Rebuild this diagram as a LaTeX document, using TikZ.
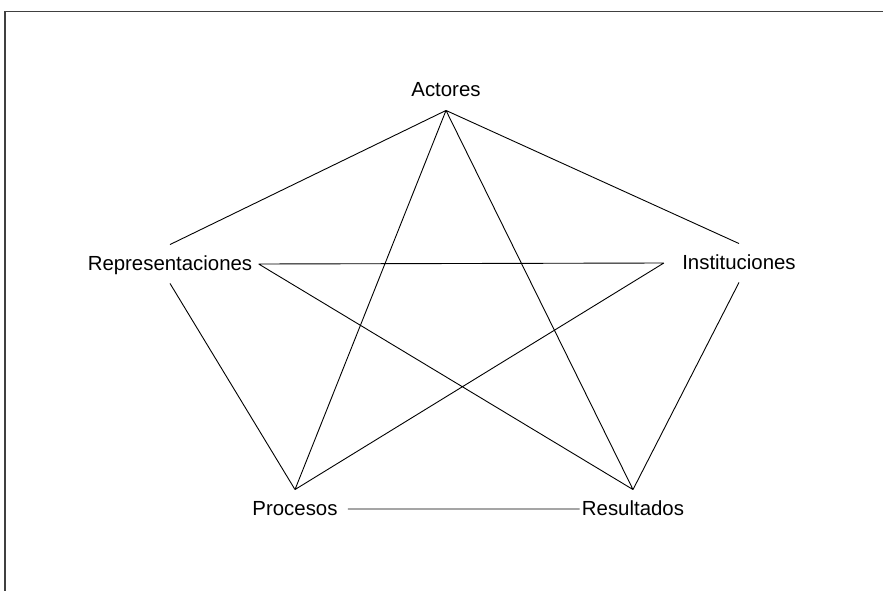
\documentclass[tikz,border=0pt]{standalone}
\usepackage{fontspec}
\setmainfont{Liberation Sans}
\usepackage{tikz}

\begin{document}
\begin{tikzpicture}[x=1pt, y=-1pt, line width=0.9pt]
        \useasboundingbox (0,0) rectangle (883,591);
        \draw [line width=1.2pt, black!75] (5,591) -- (5,11.5) -- (883,11.5);

        {\tikzstyle{every node}=[anchor=base, font=\fontsize{20.4}{24}\selectfont,
            text height=16pt, text depth=4pt, inner xsep=6pt, inner ysep=9pt]
          \node (act)  at (446, 97)  {Actores};
          \node (rep)  at (170, 270) {Representaciones};
          \node (inst) at (739, 269) {Instituciones};
          \node (proc) at (295, 515) {Procesos};
          \node (res)  at (633, 515) {Resultados};
        }

        % outer pentagon and inner star
        \draw
          (act.south) -- (rep.north)
          (act.south) -- (inst.north)
          (act.south) -- (proc.north)
          (act.south) -- (res.north)
          (rep.east) -- ([xshift=-12pt]inst.west)
          (rep.east) -- (res.north)
          ([xshift=-12pt]inst.west) -- (proc.north)
          (rep.south) -- (proc.north)
          (inst.south) -- (res.north)
          ([xshift=4pt]proc.east) -- ([xshift=4pt]res.west);
      \end{tikzpicture}
\end{document}
